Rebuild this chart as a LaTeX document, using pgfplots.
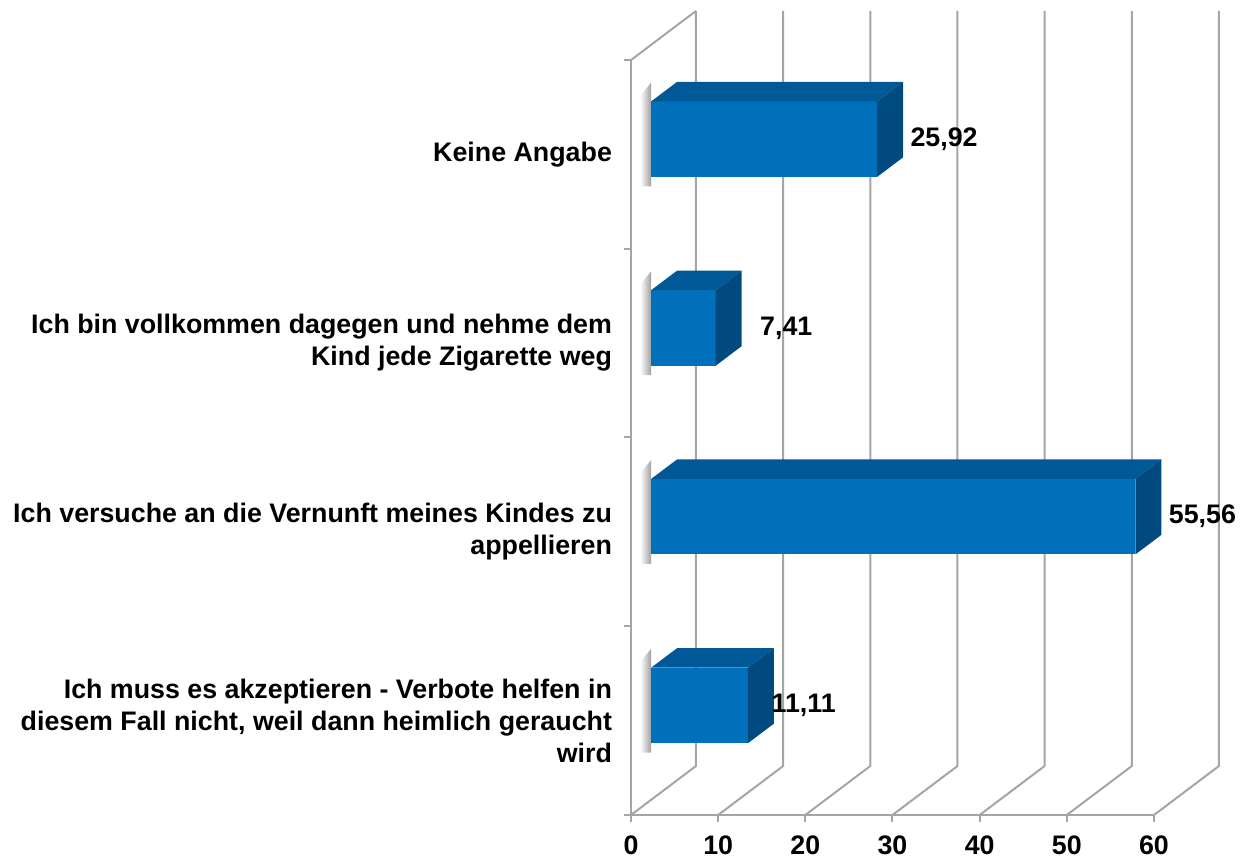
\documentclass[border=0pt]{standalone}
\usepackage{pgfplots}
\pgfplotsset{compat=1.18}
\usepackage{pgfplotstable}
\usepackage{fontspec}
\setmainfont{Liberation Sans}
\definecolor{barfront}{RGB}{0,112,186}
\definecolor{bartop}{RGB}{0,89,150}
\definecolor{barside}{RGB}{0,74,128}
\definecolor{linegray}{RGB}{165,165,165}
\newcommand{\lblfont}{\bfseries\fontsize{13.4}{16}\selectfont}

\pgfplotstableread{
pos value label lx
0 11.11 11,11 8.7
1 55.56 55,56 10.0
2 7.41 7,41 10.4
3 25.92 25,92 10.0
}\datatable

% depth: full (7.457, 0.2596); bar front at 0.31, back at 0.71
\newcommand{\drawbar}[1]{%
  \pgfplotstablegetelem{#1}{value}\of\datatable
  \let\barval\pgfplotsretval
  \pgfmathsetmacro{\xfa}{2.312}%
  \pgfmathsetmacro{\xfb}{\barval+2.312}%
  \pgfmathsetmacro{\xba}{5.294}%
  \pgfmathsetmacro{\xbb}{\barval+5.294}%
  \pgfmathsetmacro{\xsa}{2.312-1.25}%
  \pgfmathsetmacro{\yfb}{#1+0.5-0.2+0.0805}%
  \pgfmathsetmacro{\yft}{#1+0.5+0.2+0.0805}%
  \pgfmathsetmacro{\ybb}{#1+0.5-0.2+0.1843}%
  \pgfmathsetmacro{\ybt}{#1+0.5+0.2+0.1843}%
  \pgfmathsetmacro{\ysb}{#1+0.5-0.2+0.0805-0.05}%
  \pgfmathsetmacro{\yst}{#1+0.5+0.2+0.0805+0.10}%
  \pgfmathsetmacro{\ysm}{#1+0.5+0.2+0.0805+0.03}%
  \edef\tmp{%
    \noexpand\addplot[draw=none, left color=white, right color=gray!75] coordinates {(\xsa,\ysb) (\xfa,\ysb) (\xfa,\yst) (\xsa,\ysm)};
    \noexpand\addplot[draw=none, fill=barfront] coordinates {(\xfa,\yfb) (\xfb,\yfb) (\xfb,\yft) (\xfa,\yft)};
    \noexpand\addplot[draw=none, fill=bartop] coordinates {(\xfa,\yft) (\xfb,\yft) (\xbb,\ybt) (\xba,\ybt)};
    \noexpand\addplot[draw=none, fill=barside] coordinates {(\xfb,\yfb) (\xbb,\ybb) (\xbb,\ybt) (\xfb,\yft)};
  }\tmp
}

\begin{document}
\begin{tikzpicture}
\begin{axis}[
  at={(315.5pt,23pt)}, anchor=south west,
  scale only axis, width=261.5pt, height=377.5pt,
  xmin=0, xmax=60, ymin=0, ymax=4,
  clip=false,
  axis lines*=left,
  axis line style={draw=linegray, line width=1pt, -},
  tick style={draw=linegray, line width=1pt},
  tick align=outside, major tick length=3.5pt,
  xtick={0,10,20,30,40,50,60},
  xticklabels={0,10,20,30,40,50,60},
  xticklabel style={font=\lblfont, yshift=-3.5pt},
  ytick={0,1,2,3,4},
  y tick label as interval,
  yticklabels={{Ich muss es akzeptieren - Verbote helfen in\\diesem Fall nicht, weil dann heimlich geraucht\\wird},
    {Ich versuche an die Vernunft meines Kindes zu\\appellieren},
    {Ich bin vollkommen dagegen und nehme dem\\Kind jede Zigarette weg},
    {Keine Angabe}},
  yticklabel style={font=\lblfont, align=right, xshift=-2.5pt},
]
% back wall / floor grid lines
\pgfplotsinvokeforeach{0,10,20,30,40,50,60}{
  \draw[linegray, line width=1pt] (axis cs:#1,0) -- (axis cs:#1+7.457,0.2596) -- (axis cs:#1+7.457,4.2596);
}
\draw[linegray, line width=1pt] (axis cs:0,4) -- (axis cs:7.457,4.2596);

\drawbar{0}
\drawbar{1}
\drawbar{2}
\drawbar{3}

\addplot[draw=none, nodes near coords, point meta=explicit symbolic,
  every node near coord/.style={anchor=center, font=\lblfont, text=black}]
  table[x expr=\thisrow{value}+\thisrow{lx}, y expr=\thisrow{pos}+0.5805, meta=label] {\datatable};
\end{axis}
\pgfresetboundingbox
\path[use as bounding box] (0,0) rectangle (621pt,430.5pt);
\end{tikzpicture}
\end{document}
